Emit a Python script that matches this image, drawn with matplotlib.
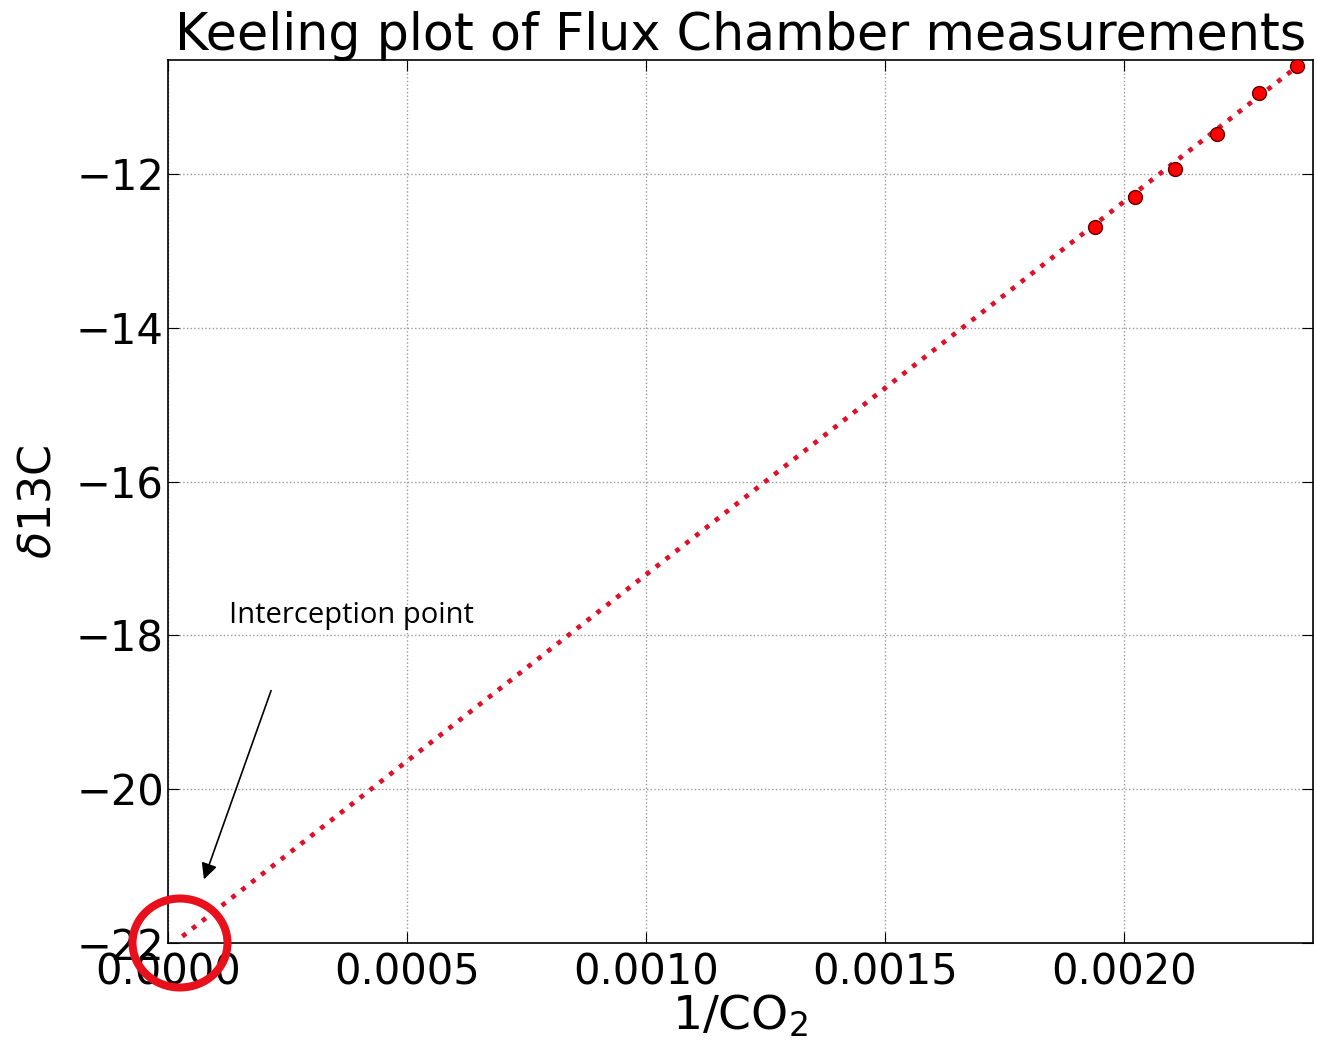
import numpy as np
import matplotlib.pyplot as plt
from matplotlib.patches import Ellipse

# inverse CO2 concentration and measured delta 13C
inv_co2 = [0.001939, 0.002023, 0.002107, 0.002195, 0.002282, 0.002362]
d13c = [-12.69, -12.30, -11.94, -11.48, -10.95, -10.60]

# Keeling regression line
intercept = -22.06
slope = 4850.0
fit_range = [0.00003, 0.00239]

xticks = [0.0, 0.0005, 0.0010, 0.0015, 0.0020]
yticks = [-22, -20, -18, -16, -14, -12]

W, H = 1317, 1042
fig = plt.figure(figsize=(W / 100, H / 100), dpi=100)
ax = fig.add_axes([168 / W, 1 - 943 / H, (1313 - 168) / W, (943 - 60) / H])

xs = np.array(fit_range)
ax.plot(xs, intercept + slope * xs, ':', color='#e0102a', lw=3.4, zorder=2)
ax.plot(inv_co2, d13c, 'o', color='red', mec='#600000', mew=1, ms=10, zorder=3)

ax.set_xlim(0, 0.002395)
ax.set_ylim(-22, -10.52)
ax.set_xticks(xticks)
ax.set_xticklabels([f'{t:.4f}' for t in xticks])
ax.set_yticks(yticks)
ax.set_yticklabels([f'\u2212{abs(t)}' for t in yticks])
ax.tick_params(direction='in', length=8, top=True, right=True, labelsize=30)
ax.tick_params(axis='x', pad=6)
ax.tick_params(axis='y', pad=3)
ax.grid(True, linestyle=':', color='#999999', lw=1)
for s in ax.spines.values():
    s.set_linewidth(1.2)

ax.set_title('Keeling plot of Flux Chamber measurements', fontsize=36.5, pad=7)
ax.set_xlabel('1/CO$_2$', fontsize=34, labelpad=0)
ax.set_ylabel(r'$\delta$13C', fontsize=32, labelpad=12)

# marker for the intercept and its label
fig.patches.append(Ellipse((180 / W, 1 - 943 / H), 95 / W, 89 / H, fill=False,
                           edgecolor='#e8101a', lw=5.8, transform=fig.transFigure,
                           zorder=10))
fig.text(229 / W, 1 - 615 / H, 'Interception point', family='Open Sans', fontsize=21,
         va='center', ha='left')
ax.annotate('', xy=(203 / W, 1 - 882 / H), xytext=(272 / W, 1 - 688 / H),
            xycoords='figure fraction', textcoords='figure fraction',
            arrowprops=dict(arrowstyle='-|>', color='black', lw=1.2, mutation_scale=24))

fig.savefig('out.png', dpi=100)
